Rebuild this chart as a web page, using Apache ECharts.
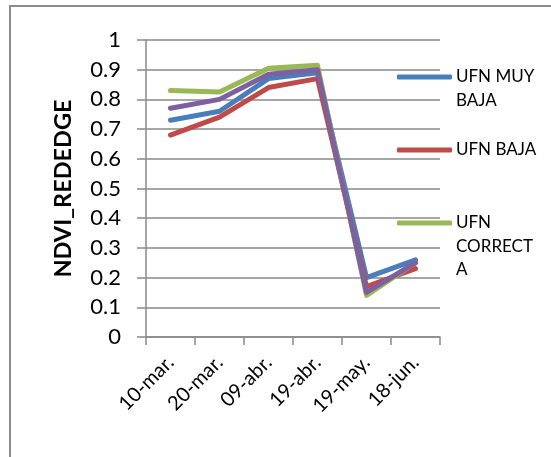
<!DOCTYPE html>
<html>
<head>
<meta charset="utf-8">
<script src="https://cdn.jsdelivr.net/npm/echarts@6/dist/echarts.min.js"></script>
<style>
  html, body { margin: 0; padding: 0; background: #fff; }
  #chart { width: 551px; height: 457px; }
</style>
</head>
<body>
<div id="chart"></div>
<script>
// Sampling dates
const dates = ['10-mar.', '20-mar.', '09-abr.', '19-abr.', '19-may.', '18-jun.'];

// NDVI red-edge per fertilisation level
const ufnMuyBaja  = [0.73, 0.76, 0.87, 0.89, 0.20, 0.26];
const ufnBaja     = [0.68, 0.74, 0.84, 0.87, 0.17, 0.23];
const ufnCorrecta = [0.83, 0.825, 0.905, 0.915, 0.14, 0.25];
const ufnAlta     = [0.77, 0.80, 0.885, 0.90, 0.15, 0.25];

const seriesNames = ['UFN MUY BAJA', 'UFN BAJA', 'UFN CORRECTA', 'UFN ALTA'];
const seriesData = [ufnMuyBaja, ufnBaja, ufnCorrecta, ufnAlta];
const seriesColors = ['#4A7EBB', '#BE4B48', '#98B954', '#7D60A0'];

// Wrapped legend labels (narrow legend column)
const legendLines = {
  'UFN MUY BAJA': ['UFN MUY', 'BAJA'],
  'UFN BAJA': ['UFN BAJA'],
  'UFN CORRECTA': ['UFN', 'CORRECT', 'A']
};
const legendIconY = { 'UFN MUY BAJA': 77, 'UFN BAJA': 150, 'UFN CORRECTA': 223 };

const FONT = 'Lato, "Liberation Sans", sans-serif';
const LH = 23.5;
const GRID_COLOR = '#898989';

const chart = echarts.init(document.getElementById('chart'), null, { renderer: 'canvas' });

// One legend block per entry so each icon sits beside the first text line
const legends = Object.keys(legendLines).map(name => {
  const n = legendLines[name].length;
  return {
    data: [name],
    orient: 'vertical',
    left: 397,
    top: legendIconY[name] - (2 * n - 1) * LH / 2,
    padding: 0,
    itemWidth: 55,
    itemHeight: 5,
    itemGap: 0,
    icon: 'roundRect',
    selectedMode: false,
    formatter: () => '\n'.repeat(n - 1) + legendLines[name].join('\n'),
    textStyle: { fontFamily: FONT, fontSize: 17, color: '#000', lineHeight: LH, padding: [0, 0, 0, -1] }
  };
});

chart.setOption({
  animation: false,
  backgroundColor: '#fff',
  graphic: [{
    type: 'rect',
    shape: { x: 10, y: 6, width: 560, height: 470 },
    style: { fill: 'none', stroke: '#8c8c8c', lineWidth: 2 },
    silent: true
  }],
  legend: legends,
  grid: { left: 146, top: 40, right: 111, bottom: 120, containLabel: false },
  xAxis: {
    type: 'category',
    data: dates,
    boundaryGap: true,
    axisLine: { lineStyle: { color: GRID_COLOR, width: 1.5 } },
    axisTick: { show: true, interval: 0, length: 8, lineStyle: { color: GRID_COLOR, width: 1.5 } },
    axisLabel: { interval: 0, rotate: 45, margin: 22, fontFamily: FONT, fontSize: 20, color: '#000' }
  },
  yAxis: {
    type: 'value',
    min: 0,
    max: 1,
    interval: 0.1,
    name: 'NDVI_REDEDGE',
    nameLocation: 'middle',
    nameGap: 71,
    nameRotate: 90,
    nameTextStyle: { fontFamily: FONT, fontSize: 23.5, fontWeight: 'bold', color: '#000' },
    axisLine: { show: true, lineStyle: { color: GRID_COLOR, width: 1.5 } },
    axisTick: { show: true, length: 9, lineStyle: { color: GRID_COLOR, width: 1.5 } },
    splitLine: { show: true, lineStyle: { color: GRID_COLOR, width: 1.5 } },
    axisLabel: { margin: 25, fontFamily: FONT, fontSize: 22, color: '#000' }
  },
  series: seriesNames.map((name, i) => ({
    name: name,
    type: 'line',
    data: seriesData[i],
    color: seriesColors[i],
    symbol: 'none',
    smooth: false,
    lineStyle: { width: 5, color: seriesColors[i], cap: 'round', join: 'round' }
  }))
});
</script>
</body>
</html>
